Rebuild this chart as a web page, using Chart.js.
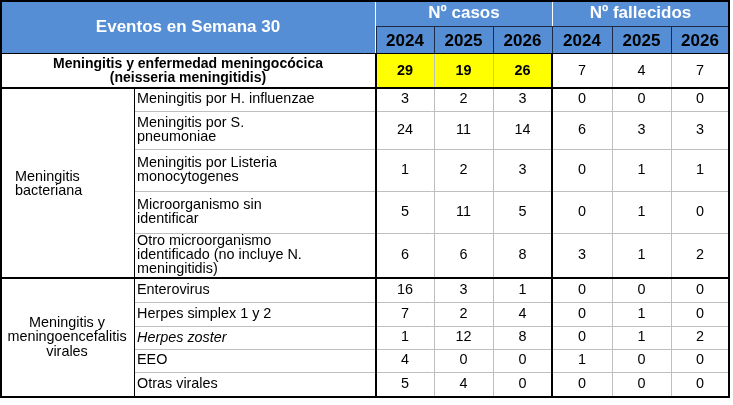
<!DOCTYPE html>
<html>
<head>
<meta charset="utf-8">
<script src="https://cdn.jsdelivr.net/npm/chart.js@4.4.1/dist/chart.umd.min.js"></script>
<style>
  html, body { margin: 0; padding: 0; background: #ffffff; }
  #wrap { width: 733px; height: 405px; position: relative; }
</style>
</head>
<body>
<div id="wrap"><canvas id="c"></canvas></div>
<script>
// ---------- DATA ----------
const headerTitle = 'Eventos en Semana 30';
const groupTitles = ['Nº casos', 'Nº fallecidos'];
const years = ['2024', '2025', '2026'];

const totalLabel = ['Meningitis y enfermedad meningocócica', '(neisseria meningitidis)'];
const totalCases = [29, 19, 26];
const totalDeaths = [7, 4, 7];

const bacterialTitle = ['Meningitis', 'bacteriana'];
const bacterialLabels = [
  ['Meningitis por H. influenzae'],
  ['Meningitis por S.', 'pneumoniae'],
  ['Meningitis por Listeria', 'monocytogenes'],
  ['Microorganismo sin', 'identificar'],
  ['Otro microorganismo', 'identificado (no incluye N.', 'meningitidis)']
];
const bacterialCases = [[3, 2, 3], [24, 11, 14], [1, 2, 3], [5, 11, 5], [6, 6, 8]];
const bacterialDeaths = [[0, 0, 0], [6, 3, 3], [0, 1, 1], [0, 1, 0], [3, 1, 2]];

const viralTitle = ['Meningitis y', 'meningoencefalitis', 'virales'];
const viralLabels = [['Enterovirus'], ['Herpes simplex 1 y 2'], ['Herpes zoster'], ['EEO'], ['Otras virales']];
const viralItalic = [false, false, true, false, false];
const viralCases = [[16, 3, 1], [7, 2, 4], [1, 12, 8], [4, 0, 0], [5, 4, 0]];
const viralDeaths = [[0, 0, 0], [0, 1, 0], [0, 1, 2], [1, 0, 0], [0, 0, 0]];

// ---------- LAYOUT (grid units on the chart's scales) ----------
const colEdges = [0, 134, 376, 434, 493, 552, 612, 671, 729];
const rowEdges = [0, 27, 54, 88, 111, 149, 191, 233, 278, 302, 326, 349, 372, 397];

const FONT = '"Liberation Sans", Arial, sans-serif';
const HEADER_BG = '#558ED5';
const YELLOW = '#FFFF00';
const GRID_GRAY = '#BFBFBF';

const tablePlugin = {
  id: 'tablePlugin',
  afterDraw(chart) {
    const ctx = chart.ctx;
    const xs = chart.scales.x, ys = chart.scales.y;
    const X = v => xs.getPixelForValue(v);
    const Y = v => ys.getPixelForValue(v);
    const C = i => X(colEdges[i]);
    const R = i => Y(rowEdges[i]);
    const last = colEdges.length - 1;
    const lastRow = rowEdges.length - 1;

    ctx.save();
    // header background
    ctx.fillStyle = HEADER_BG;
    ctx.fillRect(C(0), R(0), C(last) - C(0), R(2) - R(0));
    // yellow totals
    ctx.fillStyle = YELLOW;
    ctx.fillRect(C(2), R(2), C(5) - C(2), R(3) - R(2));

    function text(lines, cx, cy, opts) {
      const size = opts.size || 14.4;
      const lh = opts.lh || 14;
      ctx.font = (opts.italic ? 'italic ' : '') + (opts.bold ? 'bold ' : '') + size + 'px ' + FONT;
      ctx.fillStyle = opts.color || '#000';
      ctx.textAlign = opts.align || 'center';
      ctx.textBaseline = 'middle';
      const n = lines.length;
      lines.forEach((ln, i) => {
        ctx.fillText(ln, cx, cy + (i - (n - 1) / 2) * lh);
      });
    }
    const midX = (a, b) => (C(a) + C(b)) / 2;
    const midY = (a, b) => (R(a) + R(b)) / 2;

    // header texts
    text([headerTitle], midX(0, 2), midY(0, 2), { bold: true, size: 17, color: '#fff' });
    text([groupTitles[0]], midX(2, 5), midY(0, 1), { bold: true, size: 17, color: '#fff' });
    text([groupTitles[1]], midX(5, 8), midY(0, 1), { bold: true, size: 17, color: '#fff' });
    for (let g = 0; g < 2; g++) {
      years.forEach((yr, i) => {
        const c = 2 + g * 3 + i;
        text([yr], midX(c, c + 1), midY(1, 2) + 0.5, { bold: true, size: 17, color: '#000' });
      });
    }

    // totals row
    text(totalLabel, midX(0, 2), midY(2, 3), { bold: true, size: 14 });
    totalCases.forEach((v, i) => text([String(v)], midX(2 + i, 3 + i), midY(2, 3), { bold: true, size: 14.4 }));
    totalDeaths.forEach((v, i) => text([String(v)], midX(5 + i, 6 + i), midY(2, 3), { size: 14.4 }));

    // group rows
    function drawGroup(startRow, labels, cases, deaths, italics) {
      labels.forEach((lab, r) => {
        const rr = startRow + r;
        text(lab, C(1) + 3, midY(rr, rr + 1), { align: 'left', italic: italics && italics[r] });
        cases[r].forEach((v, i) => text([String(v)], midX(2 + i, 3 + i), midY(rr, rr + 1), {}));
        deaths[r].forEach((v, i) => text([String(v)], midX(5 + i, 6 + i), midY(rr, rr + 1), {}));
      });
    }
    drawGroup(3, bacterialLabels, bacterialCases, bacterialDeaths, null);
    drawGroup(8, viralLabels, viralCases, viralDeaths, viralItalic);
    text(bacterialTitle, C(0) + 15, midY(3, 8) + 1, { align: 'left', lh: 14 });
    text(viralTitle, midX(0, 1), midY(8, lastRow), { lh: 14.5 });

    // lines
    function hline(y, x0, x1, color, w) {
      ctx.strokeStyle = color; ctx.lineWidth = w;
      const o = (w % 2) ? 0.5 : 0;
      ctx.beginPath(); ctx.moveTo(x0, Math.round(y) + o); ctx.lineTo(x1, Math.round(y) + o); ctx.stroke();
    }
    function vline(x, y0, y1, color, w) {
      ctx.strokeStyle = color; ctx.lineWidth = w;
      const o = (w % 2) ? 0.5 : 0;
      ctx.beginPath(); ctx.moveTo(Math.round(x) + o, y0); ctx.lineTo(Math.round(x) + o, y1); ctx.stroke();
    }
    // gray inner grid
    [4, 5, 6, 7, 9, 10, 11, 12].forEach(r => hline(R(r), C(1), C(last), GRID_GRAY, 1));
    [3, 4, 6, 7].forEach(c => vline(C(c), R(2), R(lastRow), GRID_GRAY, 1));
    // header separators
    vline(C(2) - 1, R(0), R(2), '#ffffff', 1);
    vline(C(5), R(0), R(1), '#ffffff', 1);
    hline(R(1) - 1, C(2), C(last), '#1f2a44', 1);
    [3, 4, 5, 6, 7].forEach(c => vline(C(c), R(1), R(2), '#1f2a44', 1));
    vline(C(2), R(1), R(2), '#1f2a44', 1);
    // black structure
    hline(R(2) - 1, C(0), C(last), '#000', 1);
    vline(C(1), R(3), R(lastRow), '#000', 1);
    hline(R(3), C(0), C(last), '#000', 2);
    hline(R(8), C(0), C(last), '#000', 2);
    vline(C(2), R(2), R(lastRow), '#000', 2);
    vline(C(5), R(2), R(lastRow), '#000', 2);
    // outer border
    ctx.strokeStyle = '#000'; ctx.lineWidth = 2;
    ctx.strokeRect(C(0) + 1, R(0) + 1, C(last) - C(0) - 1, R(lastRow) - R(0) - 1);
    ctx.restore();
  }
};

new Chart(document.getElementById('c'), {
  type: 'scatter',
  data: { datasets: [] },
  options: {
    responsive: true,
    maintainAspectRatio: false,
    animation: false,
    layout: { padding: 0 },
    plugins: { legend: { display: false }, tooltip: { enabled: false } },
    scales: {
      x: { type: 'linear', min: 0, max: 733, display: false },
      y: { type: 'linear', min: 0, max: 405, reverse: true, display: false }
    }
  },
  plugins: [tablePlugin]
});
</script>
</body>
</html>
